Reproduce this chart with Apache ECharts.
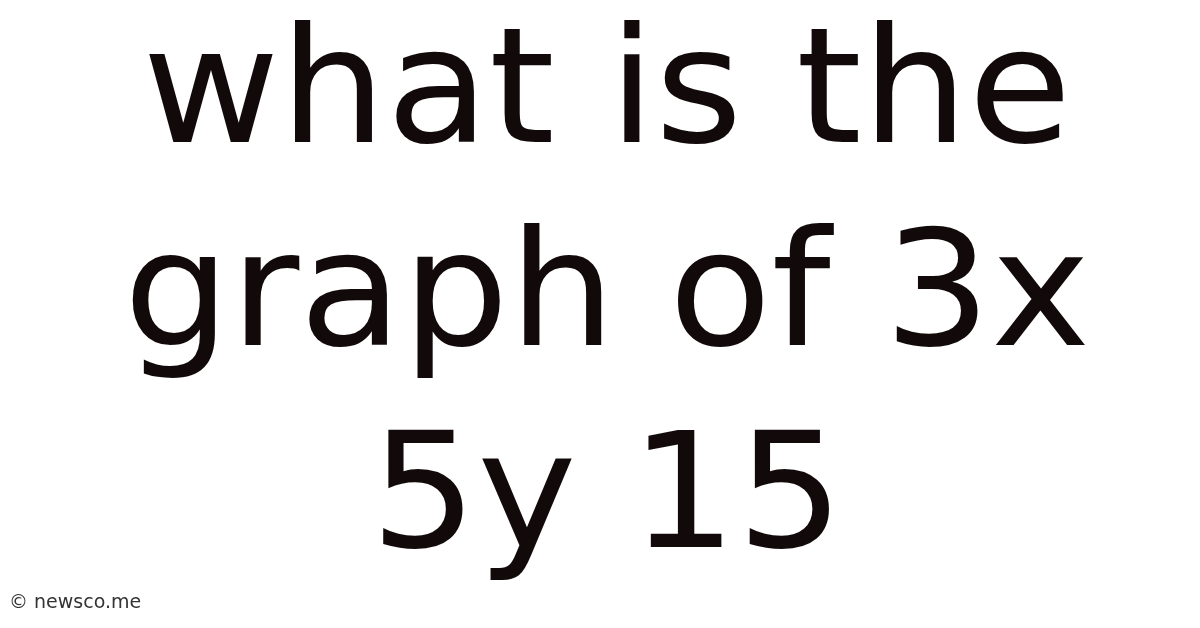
<!DOCTYPE html>
<html>
<head>
<meta charset="utf-8">
<script src="https://cdn.jsdelivr.net/npm/echarts@6/dist/echarts.min.js"></script>
<style>html,body{margin:0;padding:0;background:#fff;}#c{width:1200px;height:628px;}</style>
</head>
<body>
<div id="c"></div>
<script>
var titleLines = ["what is the", "graph of 3x", "5y 15"];
var lineBaselines = [148, 351, 553];
var footerText = "\u00a9 newsco.me";

var chart = echarts.init(document.getElementById('c'), null, {renderer: 'canvas'});
var elements = titleLines.map(function (t, i) {
  return {
    type: 'text',
    x: 607,
    y: lineBaselines[i] - 47.5,
    scaleY: 0.95,
    style: {
      text: t,
      fontFamily: 'DejaVu Sans',
      fontSize: 168,
      fill: '#120a0a',
      align: 'center',
      verticalAlign: 'middle'
    }
  };
});
elements.push({
  type: 'text',
  x: 9,
  y: 603,
  style: {
    text: footerText,
    fontFamily: 'DejaVu Sans',
    fontSize: 19,
    fill: '#333',
    align: 'left',
    verticalAlign: 'middle'
  }
});
chart.setOption({
  backgroundColor: '#ffffff',
  animation: false,
  graphic: { elements: elements }
});
</script>
</body>
</html>
